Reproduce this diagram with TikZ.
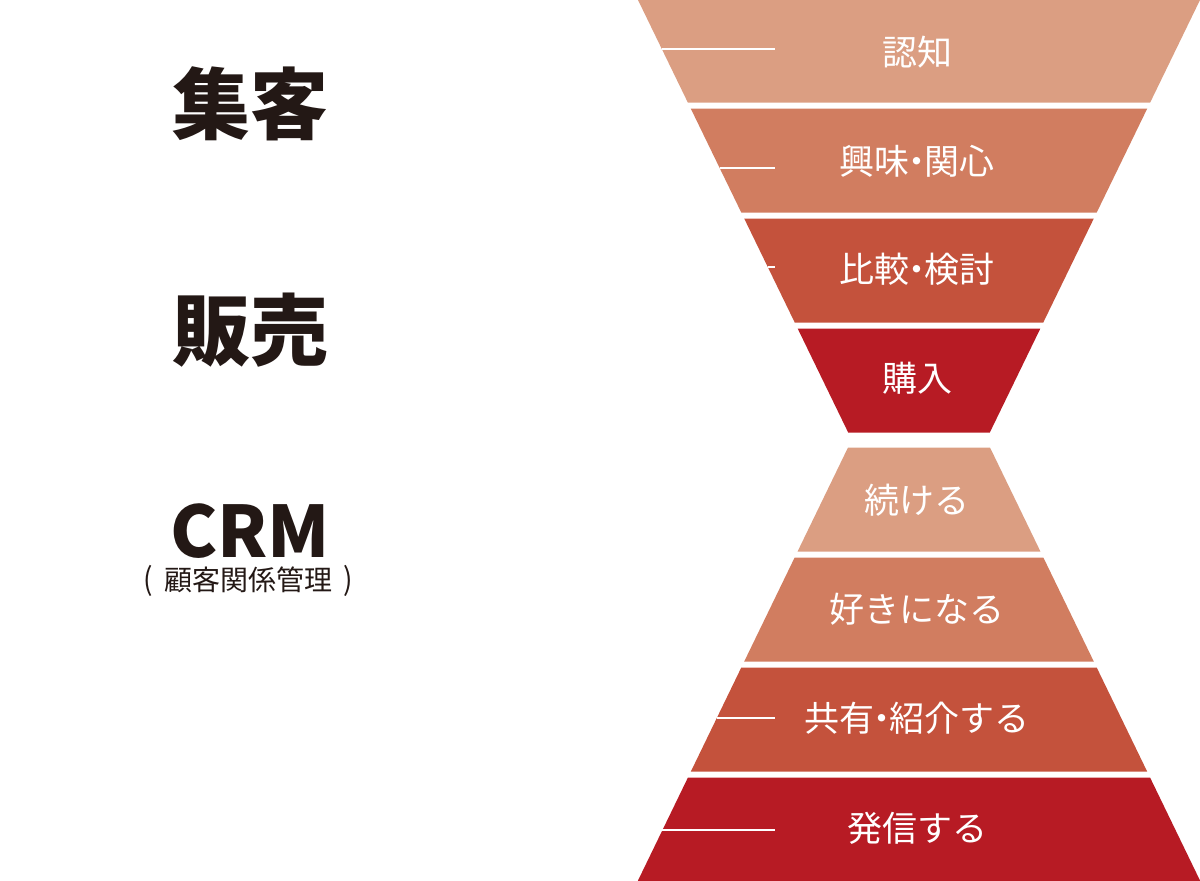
\documentclass[tikz,border=0pt]{standalone}
\usepackage{fontspec}
\newfontfamily\jp{Noto Sans CJK JP}
\definecolor{bandA}{RGB}{219,158,130}
\definecolor{bandB}{RGB}{209,125,96}
\definecolor{bandC}{RGB}{196,82,60}
\definecolor{bandD}{RGB}{183,27,36}
\definecolor{inkc}{RGB}{35,24,21}
\newcommand{\nd}{\kern-0.28em・\kern-0.28em}
\tikzset{
  bandlabel/.style={font=\jp\fontsize{35}{40}\selectfont, text=white, inner sep=0pt,
    text height=30.8pt, text depth=4.2pt, anchor=center},
  biglabel/.style={font=\jp\bfseries\fontsize{78}{80}\selectfont, text=inkc, inner sep=0pt,
    text height=68.6pt, text depth=9.4pt, anchor=center},
  sublabel/.style={font=\jp\fontsize{28}{30}\selectfont, text=inkc, inner sep=0pt,
    text height=24.6pt, text depth=3.4pt, anchor=center},
  guide/.style={draw=white, line width=1.4pt}
}
\begin{document}
\begin{tikzpicture}[x=1pt,y=-1pt]
\useasboundingbox (0,0) rectangle (1200,881);
% upper funnel
\foreach \ya/\yb/\col in {0/102.5/bandA, 108.5/212.5/bandB, 218.5/322.5/bandC, 328.5/432.5/bandD}{
  \fill[\col] ({638+0.486*\ya},\ya) -- ({1200-0.486*\ya},\ya) -- ({1200-0.486*\yb},\yb) -- ({638+0.486*\yb},\yb) -- cycle;
}
% lower pyramid
\foreach \ya/\yb/\col in {447.5/551.5/bandA, 557.5/661.5/bandB, 667.5/771.5/bandC, 777.5/881/bandD}{
  \fill[\col] ({848-0.485*(\ya-447.5)},\ya) -- ({990+0.485*(\ya-447.5)},\ya) -- ({990+0.485*(\yb-447.5)},\yb) -- ({848-0.485*(\yb-447.5)},\yb) -- cycle;
}
% guide lines
\coordinate (g1a) at ({638+0.486*49},49);   \coordinate (g1b) at (775,49);
\coordinate (g2a) at ({638+0.486*168},168); \coordinate (g2b) at (775,168);
\coordinate (g3a) at ({638+0.486*267},267); \coordinate (g3b) at (775,267);
\coordinate (g7a) at ({848-0.485*(718-447.5)},718); \coordinate (g7b) at (775,718);
\coordinate (g8a) at ({848-0.485*(830-447.5)},830); \coordinate (g8b) at (775,830);
\draw[guide] (g1a) -- (g1b);
\draw[guide] (g2a) -- (g2b);
\draw[guide] (g3a) -- (g3b);
\draw[guide] (g7a) -- (g7b);
\draw[guide] (g8a) -- (g8b);
% band labels
\node[bandlabel] (t1) at (917,52) {認知};
\node[bandlabel] (t2) at (917,161) {興味\nd 関心};
\node[bandlabel] (t3) at (917,269) {比較\nd 検討};
\node[bandlabel] (t4) at (917,378) {購入};
\node[bandlabel] (t5) at (917,500) {続ける};
\node[bandlabel] (t6) at (917,609) {好きになる};
\node[bandlabel] (t7) at (917,718) {共有\nd 紹介する};
\node[bandlabel] (t8) at (917,828) {発信する};
% left labels
\node[biglabel] (shukyaku) at (250,104) {集客};
\node[biglabel] (hanbai) at (250,330) {販売};
\node[font=\jp\bfseries\fontsize{71}{74}\selectfont, text=inkc, inner sep=0pt, anchor=base] (crm) at (250,557) {CRM};
\node[sublabel] (crmsub) at (248,580) {\makebox[0.75em][l]{\scalebox{1}[1.1]{(}}顧客関係管理\makebox[0.75em][r]{\scalebox{1}[1.1]{)}}};
\end{tikzpicture}
\end{document}
